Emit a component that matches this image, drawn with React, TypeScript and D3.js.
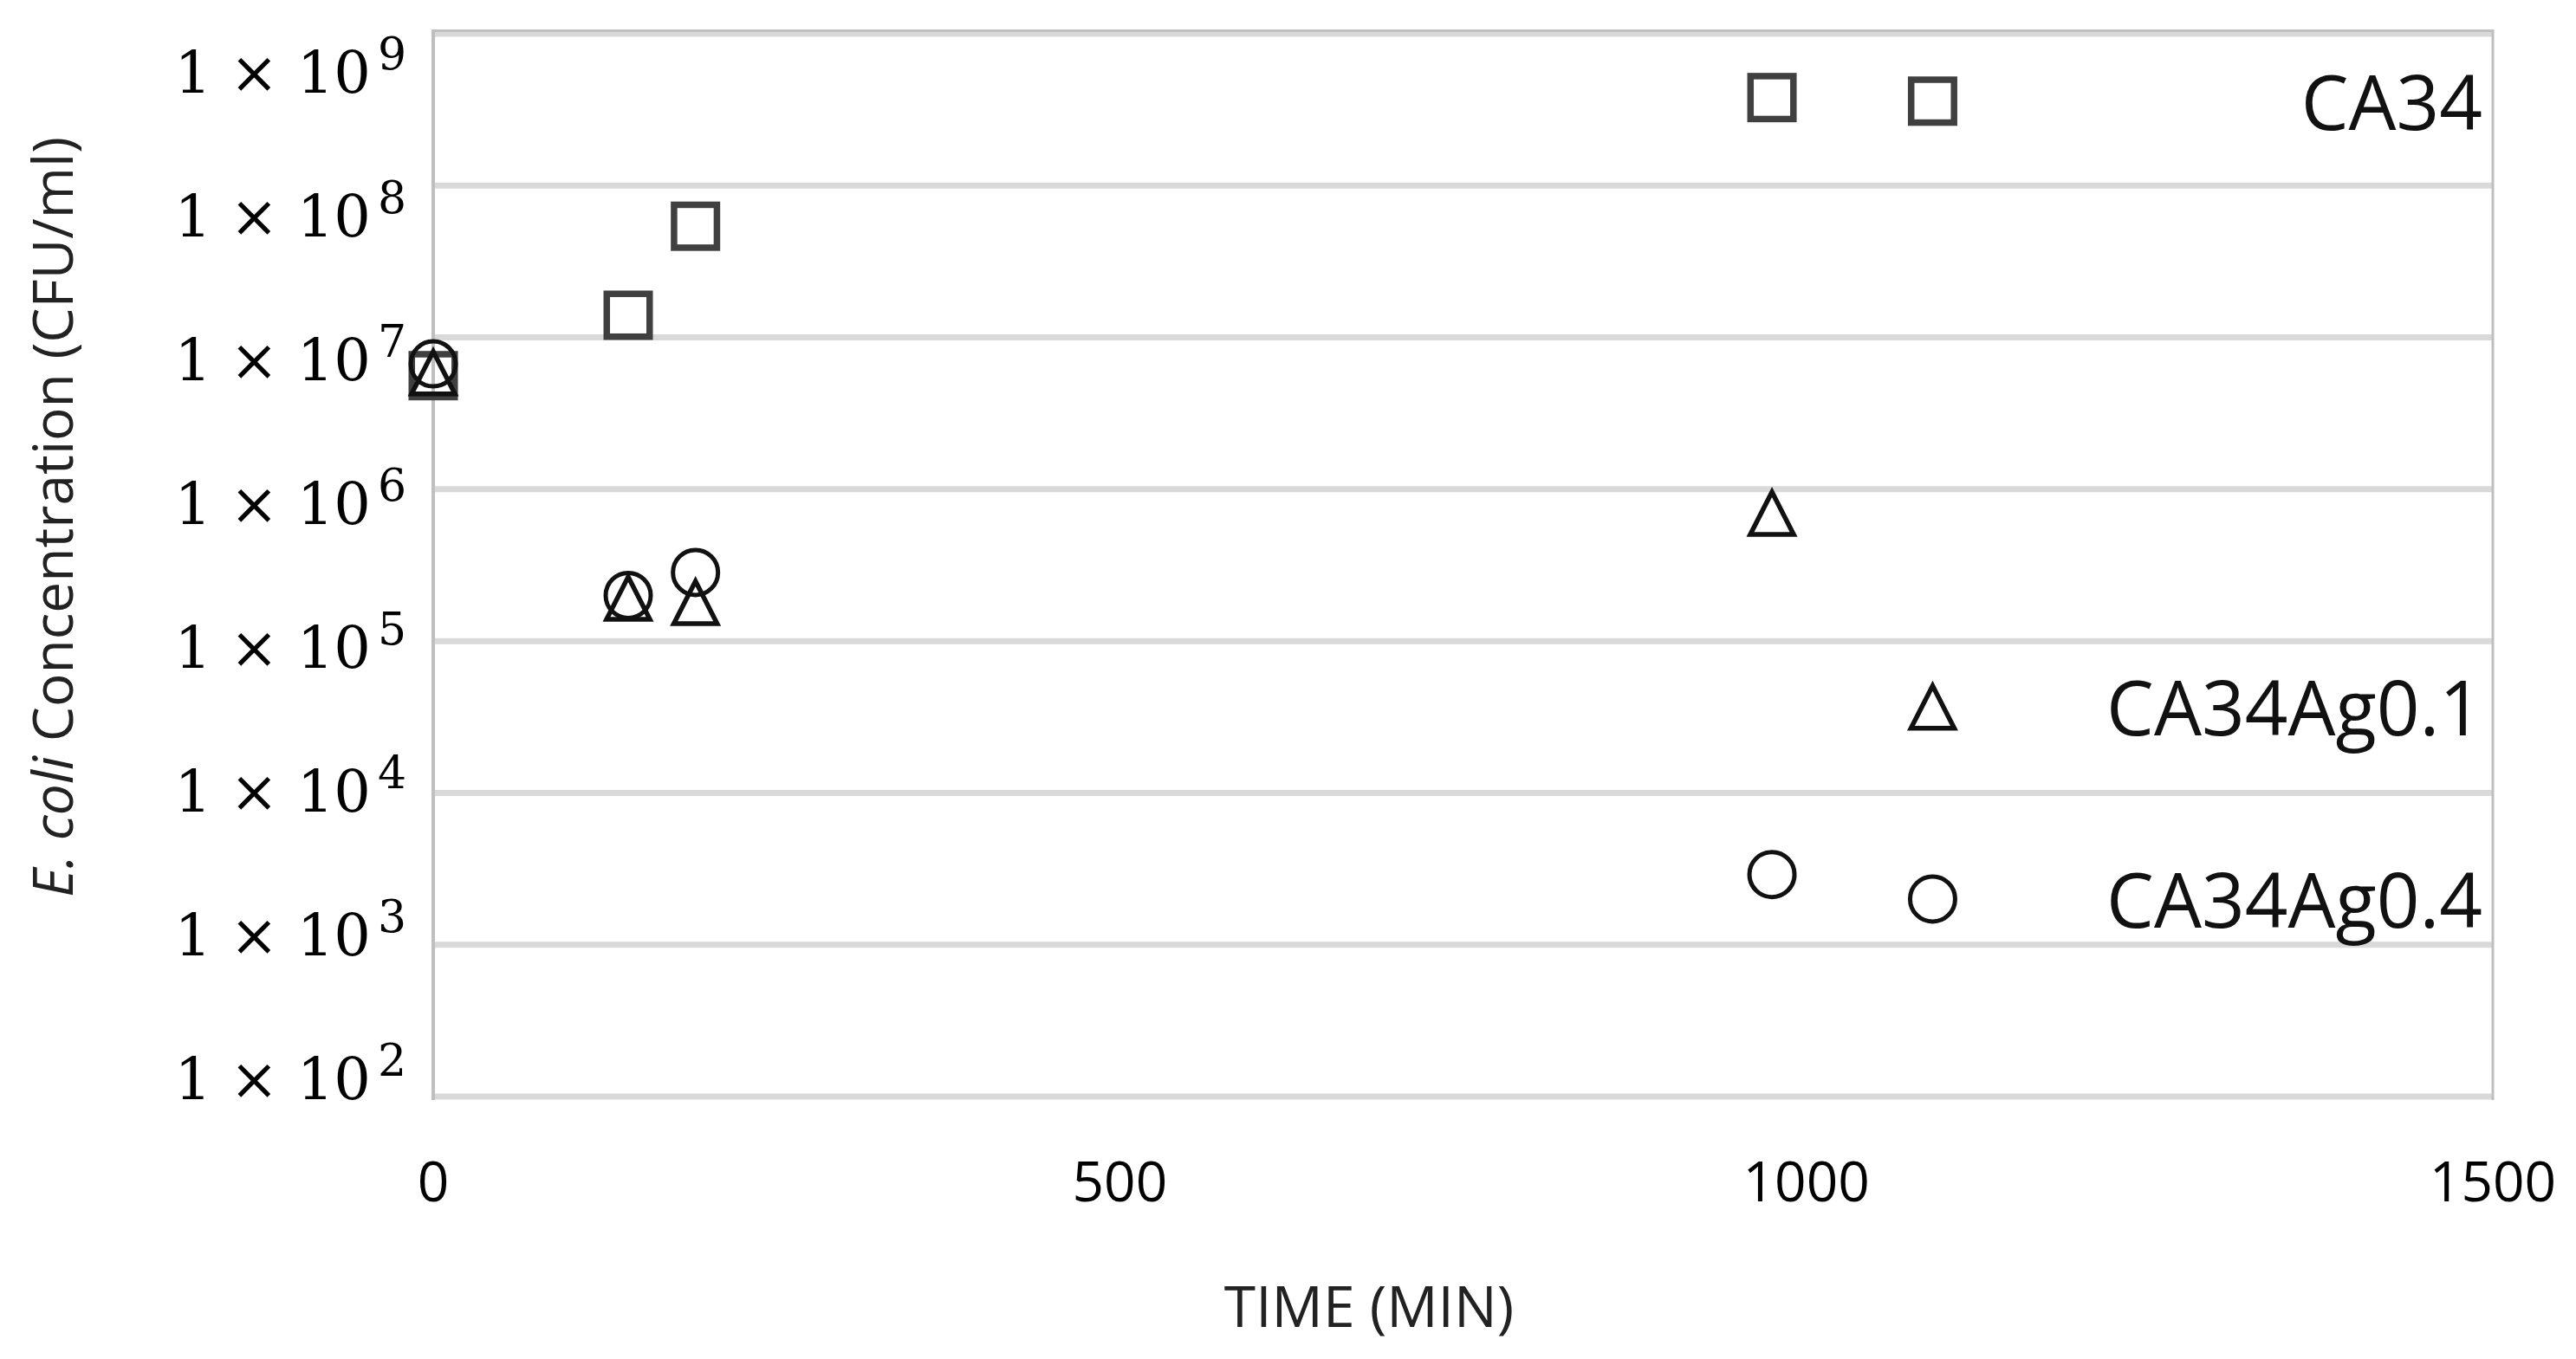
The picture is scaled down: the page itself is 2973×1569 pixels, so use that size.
import React from 'react';
import * as d3 from 'd3';

// ---- data ----
const times = [0, 142, 191, 975, 1092];
const seriesNames = ['CA34', 'CA34Ag0.1', 'CA34Ag0.4'];
const ca34 = [5.6e6, 1.4e7, 5.4e7, 3.8e8, 3.6e8];
const ca34Ag01 = [5.9e6, 1.93e5, 1.81e5, 7.0e5, 3.7e4];
const ca34Ag04 = [6.7e6, 2.0e5, 2.83e5, 2.9e3, 2.0e3];
const xTicks = [0, 500, 1000, 1500];
const yExponents = [9, 8, 7, 6, 5, 4, 3, 2];
const xTitle = 'TIME (MIN)';

const W = 2973;
const H = 1569;
const left = 500;
const right = 2877;
const top = 39;
const bottom = 1266;

const x = d3.scaleLinear().domain([0, 1500]).range([left, right]);
const y = d3.scaleLog().domain([1e2, 1e9]).range([bottom, top]);
// tick labels in the reference are spaced on their own grid
const yLabel = d3.scaleLinear().domain([9, 2]).range([107, 1269]);

const sans = "'Open Sans', 'Noto Sans', sans-serif";
const serif = "'DejaVu Serif', serif";

const trianglePath = 'M0,-24L25,25L-25,25Z';

export default function App() {
  const series = [ca34, ca34Ag01, ca34Ag04];
  return (
    <svg
      width={W}
      height={H}
      style={{ position: 'absolute', left: 0, top: 0, display: 'block', background: '#fff' }}
    >
      <rect x={0} y={0} width={W} height={H} fill="#fff" />
      {/* gridlines */}
      {yExponents.map((e) => (
        <line
          key={'g' + e}
          x1={left}
          x2={right}
          y1={y(Math.pow(10, e))}
          y2={y(Math.pow(10, e))}
          stroke="#d9d9d9"
          strokeWidth={7}
        />
      ))}
      {/* plot frame */}
      <line x1={left} x2={right} y1={35.5} y2={35.5} stroke="#bfbfbf" strokeWidth={3} />
      <line x1={left} x2={left} y1={34} y2={1270} stroke="#bfbfbf" strokeWidth={4} />
      <line x1={right} x2={right} y1={34} y2={1270} stroke="#bfbfbf" strokeWidth={3} />

      {/* y tick labels */}
      {yExponents.map((e) => (
        <g key={'yl' + e}>
          <text
            x={428}
            y={yLabel(e)}
            textAnchor="end"
            fontFamily={serif}
            fontSize={67}
            fill="#000"
          >
            {'1 \u00d7 10'}
          </text>
          <text
            x={436}
            y={yLabel(e) - 27}
            textAnchor="start"
            fontFamily={serif}
            fontSize={52}
            fill="#000"
          >
            {String(e)}
          </text>
        </g>
      ))}

      {/* x tick labels */}
      {xTicks.map((t) => (
        <text
          key={'xt' + t}
          x={x(t)}
          y={1387}
          textAnchor="middle"
          fontFamily={sans}
          fontSize={64}
          fill="#000"
        >
          {t}
        </text>
      ))}

      {/* axis titles */}
      <text x={1580} y={1532} textAnchor="middle" fontFamily={sans} fontSize={66} fill="#222">
        {xTitle}
      </text>
      <text
        transform="translate(84,597) rotate(-90)"
        textAnchor="middle"
        fontFamily={sans}
        fontSize={64}
        fill="#222"
      >
        <tspan fontStyle="italic">E. coli</tspan>
        <tspan> Concentration (CFU/ml)</tspan>
      </text>

      {/* markers */}
      {ca34.map((v, i) => (
        <rect
          key={'s' + i}
          x={x(times[i]) - 24.75}
          y={y(v) - 24.75}
          width={49.5}
          height={49.5}
          fill="none"
          stroke="#404040"
          strokeWidth={7.5}
        />
      ))}
      {ca34Ag01.map((v, i) => (
        <path
          key={'t' + i}
          d={trianglePath}
          transform={`translate(${x(times[i])},${y(v)})`}
          fill="none"
          stroke="#111"
          strokeWidth={5.5}
          strokeLinejoin="miter"
        />
      ))}
      {ca34Ag04.map((v, i) => (
        <circle
          key={'c' + i}
          cx={x(times[i])}
          cy={y(v)}
          r={26}
          fill="none"
          stroke="#111"
          strokeWidth={5}
        />
      ))}

      {/* series labels next to the last point */}
      {series.map((s, k) => (
        <text
          key={'lab' + k}
          x={2865}
          y={y(s[s.length - 1]) + 33}
          textAnchor="end"
          fontFamily={sans}
          fontSize={87}
          fill="#111"
        >
          {seriesNames[k]}
        </text>
      ))}
    </svg>
  );
}
